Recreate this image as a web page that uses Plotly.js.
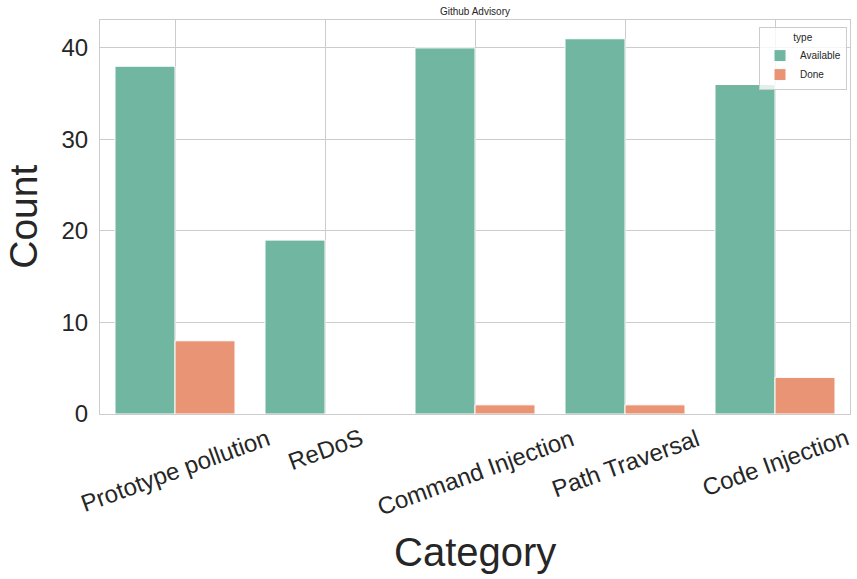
<!DOCTYPE html>
<html><head><meta charset="utf-8">
<script src="https://cdn.plot.ly/plotly-3.0.1.min.js"></script>
<style>html,body{margin:0;padding:0;background:#fff;}#chart{width:857px;height:579px;}</style>
</head><body><div id="chart"></div>
<script>
const categories = ["Prototype pollution", "ReDoS", "Command Injection", "Path Traversal", "Code Injection"];
const available = [38, 19, 40, 41, 36];
const done = [8, 0, 1, 1, 4];
const seriesNames = ["Available", "Done"];

const FONT = "Liberation Sans, Arial, sans-serif";
const traces = [
  {type:'bar', name:seriesNames[0], x:categories, y:available, marker:{color:'#71b6a0', line:{color:'#ffffff', width:1}}},
  {type:'bar', name:seriesNames[1], x:categories, y:done, marker:{color:'#e99575', line:{color:'#ffffff', width:1}}}
];
const annotations = categories.map(c => ({
  x:c, xref:'x', y:-0.019, yref:'paper', text:c, showarrow:false, textangle:-20,
  xanchor:'center', yanchor:'top', font:{family:FONT, size:24, color:'#262626'}
}));
annotations.push({x:0.5, xref:'paper', y:-0.35, yref:'paper', text:'Category', showarrow:false,
  xanchor:'center', yanchor:'middle', font:{family:FONT, size:40, color:'#262626'}});
annotations.push({x:-0.103, xref:'paper', y:0.5, yref:'paper', text:'Count', showarrow:false, textangle:-90,
  xanchor:'center', yanchor:'middle', font:{family:FONT, size:39, color:'#262626'}, borderpad:0});

const layout = {
  width:857, height:579,
  margin:{l:100, r:7, t:20, b:165},
  paper_bgcolor:'#ffffff', plot_bgcolor:'#ffffff',
  font:{family:FONT, color:'#262626'},
  title:{text:'Github Advisory', font:{family:FONT, size:10, color:'#262626'}, x:0.5, xref:'paper', y:0.981, yanchor:'middle'},
  barmode:'group', bargap:0.2, bargroupgap:0,
  xaxis:{type:'category', range:[-0.5, 4.5], showticklabels:false, showgrid:true, gridcolor:'#cccccc', gridwidth:1,
    showline:true, linecolor:'#cccccc', linewidth:1, mirror:true, ticks:'', zeroline:false},
  yaxis:{range:[0, 43.05], tickvals:[0,10,20,30,40], ticktext:['0','10','20','30','40'], showgrid:true, gridcolor:'#cccccc', gridwidth:1,
    showline:true, linecolor:'#cccccc', linewidth:1, mirror:true, ticks:'', zeroline:false,
    tickfont:{family:FONT, size:24, color:'#262626'}, ticklabelstandoff:6},
  showlegend:true,
  legend:{x:0.996, y:0.982, xanchor:'right', yanchor:'top', bgcolor:'rgba(255,255,255,0.8)', bordercolor:'#cccccc', borderwidth:1,
    font:{family:FONT, size:10, color:'#262626'}, title:{text:'type', side:'top center', font:{family:FONT, size:10, color:'#262626'}},
    itemwidth:30, tracegroupgap:0},
  annotations:annotations
};
Plotly.newPlot('chart', traces, layout, {displayModeBar:false, staticPlot:true});
</script></body></html>
